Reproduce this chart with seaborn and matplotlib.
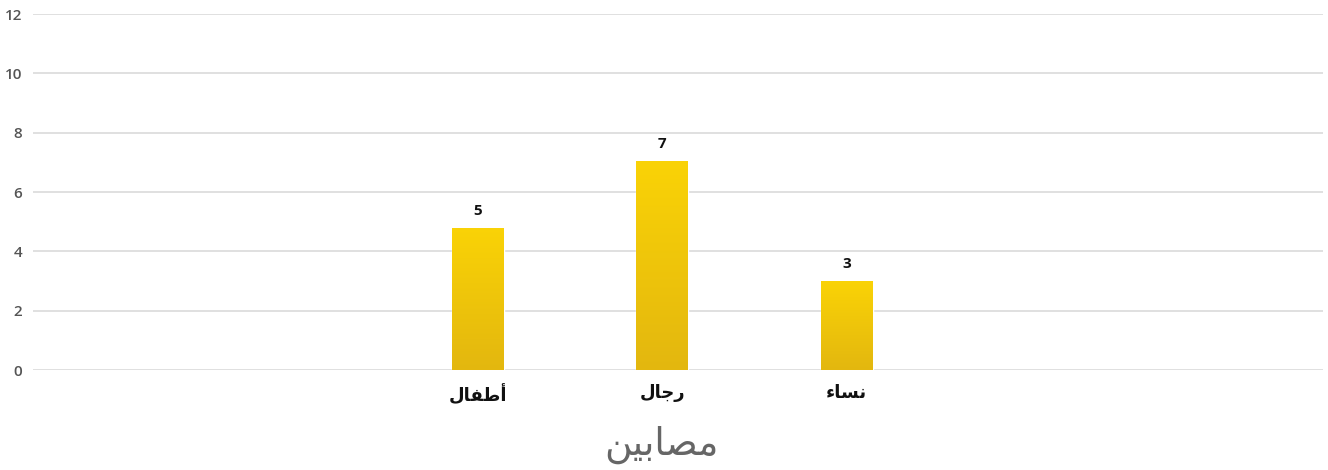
import numpy as np
import pandas as pd
import seaborn as sns
import matplotlib.pyplot as plt
from matplotlib.colors import LinearSegmentedColormap

categories = ["أطفال", "رجال", "نساء"]
heights = [4.8, 7.05, 3.0]      # bar heights as drawn
value_labels = ["5", "7", "3"]  # labels printed above the bars
x_title = "مصابين"
y_ticks = [0, 2, 4, 6, 8, 10, 12]

# isolated, final, initial, medial presentation forms
FORMS = {
    "ء": (0xFE80, None, None, None),
    "أ": (0xFE83, 0xFE84, None, None),
    "ا": (0xFE8D, 0xFE8E, None, None),
    "ب": (0xFE8F, 0xFE90, 0xFE91, 0xFE92),
    "ج": (0xFE9D, 0xFE9E, 0xFE9F, 0xFEA0),
    "ر": (0xFEAD, 0xFEAE, None, None),
    "س": (0xFEB1, 0xFEB2, 0xFEB3, 0xFEB4),
    "ص": (0xFEB9, 0xFEBA, 0xFEBB, 0xFEBC),
    "ط": (0xFEC1, 0xFEC2, 0xFEC3, 0xFEC4),
    "ف": (0xFED1, 0xFED2, 0xFED3, 0xFED4),
    "ل": (0xFEDD, 0xFEDE, 0xFEDF, 0xFEE0),
    "م": (0xFEE1, 0xFEE2, 0xFEE3, 0xFEE4),
    "ن": (0xFEE5, 0xFEE6, 0xFEE7, 0xFEE8),
    "ي": (0xFEF1, 0xFEF2, 0xFEF3, 0xFEF4),
}


def shape(word):
    # matplotlib has no Arabic shaping, so pick the joined forms by hand
    out = []
    for i, ch in enumerate(word):
        f = FORMS[ch]
        prev = FORMS[word[i - 1]] if i > 0 else None
        nxt = FORMS[word[i + 1]] if i + 1 < len(word) else None
        jp = prev is not None and prev[2] is not None and f[1] is not None
        jn = f[2] is not None and nxt is not None and nxt[1] is not None
        if jp and jn:
            cp = f[3]
        elif jp:
            cp = f[1]
        elif jn:
            cp = f[2]
        else:
            cp = f[0]
        out.append(chr(cp))
    return "".join(reversed(out))


sns.set_style("white")
plt.rcParams['font.family'] = ['Open Sans', 'DejaVu Sans']

df = pd.DataFrame({"cat": categories, "val": heights})

fig = plt.figure(figsize=(13.28, 4.70), dpi=100)
ax = fig.add_axes([33 / 1328, 100 / 470, 1290 / 1328, 356 / 470])

sns.barplot(data=df, x="cat", y="val", color="#F0C80B", width=0.28,
            ax=ax, zorder=3)

ax.set_xlim(-2.41, 4.58)
ax.set_ylim(0, 12)
ax.set_yticks(y_ticks)
ax.set_yticklabels([str(t) for t in y_ticks], color="#555555",
                   fontsize=11, fontweight="semibold")
ax.grid(axis="y", color="#dddddd", linewidth=1.3, zorder=0)
ax.set_axisbelow(True)
for s in ax.spines.values():
    s.set_visible(False)
ax.tick_params(axis="y", length=0, pad=10)
ax.tick_params(axis="x", length=0, pad=10)

# vertical gradient inside each bar
cmap = LinearSegmentedColormap.from_list("g", ["#E3B70F", "#FAD306"])
grad = np.linspace(0, 1, 256).reshape(-1, 1)
for p in ax.patches:
    x0, y0 = p.get_x(), p.get_y()
    w, h = p.get_width(), p.get_height()
    im = ax.imshow(grad, cmap=cmap, origin="lower", aspect="auto",
                   extent=[x0, x0 + w, y0, y0 + h], zorder=4)
    im.set_clip_path(p)
    ax.text(x0 + w / 2, y0 + h + 0.33, value_labels[len(ax.texts)],
            ha="center", va="bottom", fontsize=11, fontweight="bold",
            color="#111111", zorder=5)
ax.set_xlim(-2.41, 4.58)
ax.set_ylim(0, 12)

ax.set_xticks(range(len(categories)))
ax.set_xticklabels([shape(c) for c in categories], family=["DejaVu Sans"],
                   fontsize=13, fontweight="bold", color="#111111")
ax.set_xlabel(shape(x_title), family=["DejaVu Sans"], fontsize=27,
              color="#666666", labelpad=14)
ax.xaxis.set_label_coords((661 - 33) / 1290, -0.21)
ax.xaxis.label.set_va("center")
ax.set_ylabel("")
for t in ax.get_yticklabels():
    t.set_x(-0.0085)
    t.set_transform(ax.get_yaxis_transform())

fig.savefig("out.png", dpi=100)
